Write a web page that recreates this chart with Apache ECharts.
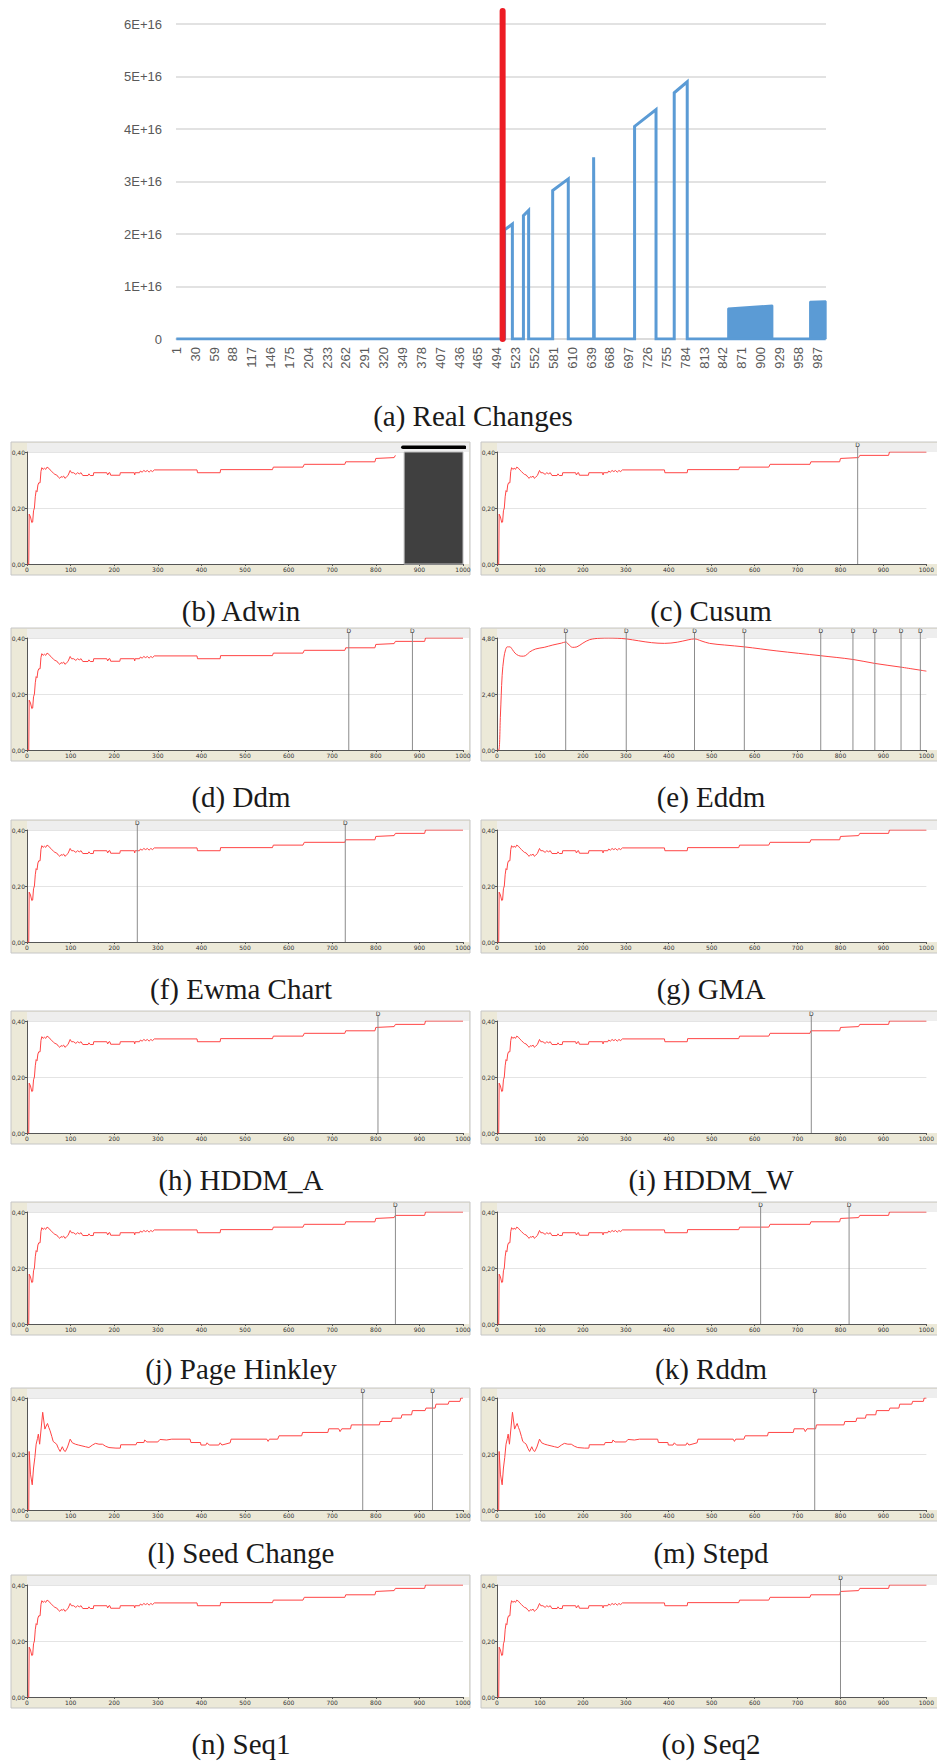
<!DOCTYPE html>
<html>
<head>
<meta charset="utf-8">
<script src="https://cdn.jsdelivr.net/npm/echarts/dist/echarts.min.js"></script>
<style>
  html, body { margin: 0; padding: 0; background: #ffffff; }
  #chart { width: 937px; height: 1762px; }
</style>
</head>
<body>
<div id="chart"></div>
<script>
// ---------- (a) Real Changes: stream values per instance ----------
const categories = [];
for (let i = 1; i <= 1000; i++) categories.push(String(i));

const driftStart = 503;          // instance where the real change begins
const driftMarkerTop = 6.25e16;  // top of the red change marker

// [instance, value] break points of the changing variable
const changeValues = [
  [1, 0], [506, 0], [506, 2.08e16], [518, 2.19e16], [518, 0],
  [535, 0], [535, 2.35e16], [543, 2.45e16], [543, 0],
  [580, 0], [580, 2.83e16], [604, 3.05e16], [604, 0],
  [643, 0], [643, 3.46e16], [644, 0],
  [706, 0], [706, 4.05e16], [739, 4.37e16], [739, 0],
  [767, 0], [767, 4.69e16], [787, 4.9e16], [787, 0],
  [1000, 0]
];
// dense oscillating stretches, drawn as filled blocks
const denseBlockA = [[850, 0], [850, 0.58e16], [918, 0.64e16], [918, 0]];
const denseBlockB = [[976, 0], [976, 0.71e16], [1000, 0.72e16], [1000, 0]];

// ---------- detector panels: accuracy curves ----------
const baseAccuracy = [
  [0, 0], [4, 0], [5, 0.178], [8, 0.168], [11, 0.148], [13, 0.15], [15, 0.19], [17, 0.2],
  [19, 0.24], [21, 0.262], [23, 0.258], [25, 0.282], [27, 0.29], [30, 0.29], [32, 0.33],
  [34, 0.344], [37, 0.338], [40, 0.342], [43, 0.338], [46, 0.346], [50, 0.342], [53, 0.336],
  [57, 0.33], [61, 0.324], [64, 0.32], [68, 0.318], [72, 0.31], [75, 0.306], [78, 0.312],
  [81, 0.31], [84, 0.314], [87, 0.306], [90, 0.31], [94, 0.316], [99, 0.334], [102, 0.326],
  [107, 0.326], [112, 0.32], [116, 0.326], [120, 0.322], [124, 0.326], [128, 0.316],
  [140, 0.316], [142, 0.322], [145, 0.316], [152, 0.316], [153, 0.326], [183, 0.326],
  [185, 0.318], [188, 0.326], [190, 0.326], [192, 0.317], [213, 0.317], [214, 0.326],
  [246, 0.326], [247, 0.318], [248, 0.326], [258, 0.326], [260, 0.332], [264, 0.328],
  [268, 0.334], [272, 0.33], [276, 0.334], [280, 0.328], [284, 0.334], [288, 0.33],
  [292, 0.336], [390, 0.336], [391, 0.326], [443, 0.326], [444, 0.337], [563, 0.337],
  [565, 0.346], [633, 0.346], [636, 0.356], [729, 0.356], [731, 0.365], [798, 0.365],
  [800, 0.377], [842, 0.38], [845, 0.388], [912, 0.388], [914, 0.4], [1000, 0.4]
];

const driftedAccuracy = [
  [0, 0], [4, 0], [5, 0.209], [8, 0.128], [12, 0.09], [15, 0.15], [18, 0.187], [21, 0.235],
  [24, 0.255], [26, 0.271], [29, 0.235], [33, 0.3], [36, 0.349], [41, 0.289], [44, 0.3],
  [47, 0.309], [50, 0.295], [53, 0.283], [57, 0.262], [60, 0.245], [64, 0.24], [68, 0.235],
  [72, 0.22], [76, 0.209], [81, 0.226], [85, 0.212], [88, 0.209], [93, 0.225], [99, 0.253],
  [104, 0.24], [111, 0.235], [118, 0.232], [126, 0.229], [134, 0.226], [142, 0.223],
  [150, 0.232], [157, 0.238], [165, 0.235], [173, 0.235], [180, 0.228], [188, 0.223],
  [204, 0.221], [214, 0.221], [215, 0.233], [250, 0.233], [252, 0.241], [268, 0.241],
  [270, 0.25], [275, 0.243], [300, 0.243], [305, 0.252], [320, 0.25], [332, 0.253],
  [374, 0.253], [376, 0.241], [398, 0.241], [399, 0.232], [410, 0.232], [413, 0.24],
  [418, 0.232], [440, 0.232], [443, 0.24], [447, 0.232], [466, 0.24], [468, 0.253],
  [550, 0.253], [553, 0.245], [556, 0.253], [575, 0.253], [578, 0.265], [630, 0.265],
  [632, 0.277], [690, 0.277], [692, 0.29], [715, 0.29], [718, 0.28], [722, 0.29],
  [742, 0.29], [744, 0.304], [808, 0.304], [810, 0.316], [836, 0.316], [838, 0.328],
  [858, 0.328], [860, 0.34], [882, 0.34], [884, 0.355], [913, 0.355], [915, 0.364],
  [936, 0.364], [938, 0.378], [966, 0.378], [968, 0.388], [993, 0.388], [995, 0.4], [1000, 0.4]
];

const eddmDistance = [
  [0, 0], [4, 0], [8, 1.5], [12, 3.2], [16, 3.95], [20, 4.3], [24, 4.42], [30, 4.42],
  [36, 4.3], [42, 4.15], [50, 4.05], [58, 4.02], [66, 4.04], [76, 4.2], [90, 4.33],
  [110, 4.4], [130, 4.5], [150, 4.58], [160, 4.63], [168, 4.5], [176, 4.4], [186, 4.42],
  [200, 4.58], [216, 4.73], [240, 4.79], [260, 4.8], [280, 4.79], [301, 4.76], [330, 4.68],
  [360, 4.6], [390, 4.57], [420, 4.62], [445, 4.72], [460, 4.76], [475, 4.68], [495, 4.57],
  [530, 4.5], [576, 4.42], [650, 4.25], [754, 4.04], [829, 3.88], [880, 3.71], [941, 3.55],
  [1000, 3.38]
];

// ---------- detections ("D") per detector ----------
const adwinWindow = [865, 1000];
const detAdwin = [];
const detCusum = [840];
const detDdm = [738, 884];
const detEddm = [160, 301, 460, 576, 754, 829, 880, 941, 986];
const detEwma = [253, 730];
const detGma = [];
const detHddmA = [805];
const detHddmW = [732];
const detPageHinkley = [845];
const detRddm = [614, 820];
const detSeedChange = [770, 930];
const detStepd = [740];
const detSeq1 = [];
const detSeq2 = [800];

const panels = [
  { caption: '(b) Adwin', curve: baseAccuracy, det: detAdwin, window: adwinWindow },
  { caption: '(c) Cusum', curve: baseAccuracy, det: detCusum },
  { caption: '(d) Ddm', curve: baseAccuracy, det: detDdm },
  { caption: '(e) Eddm', curve: eddmDistance, det: detEddm, yMax: 4.8, smooth: 0.35 },
  { caption: '(f) Ewma Chart', curve: baseAccuracy, det: detEwma },
  { caption: '(g) GMA', curve: baseAccuracy, det: detGma },
  { caption: '(h) HDDM_A', curve: baseAccuracy, det: detHddmA },
  { caption: '(i) HDDM_W', curve: baseAccuracy, det: detHddmW },
  { caption: '(j) Page Hinkley', curve: baseAccuracy, det: detPageHinkley },
  { caption: '(k) Rddm', curve: baseAccuracy, det: detRddm },
  { caption: '(l) Seed Change', curve: driftedAccuracy, det: detSeedChange },
  { caption: '(m) Stepd', curve: driftedAccuracy, det: detStepd },
  { caption: '(n) Seq1', curve: baseAccuracy, det: detSeq1 },
  { caption: '(o) Seq2', curve: baseAccuracy, det: detSeq2 }
];

// ---------- layout ----------
const rowTops = [442, 628, 820, 1011, 1202, 1388, 1575];
const captionYs = [611, 797, 989, 1180, 1369, 1553, 1744];
const frameLeft = [11, 481];
const frameWidth = [459, 462];
const axisGutter = 16;
const bandHeight = 10;
const plotWidth = 436;
const plotHeight = 112;
const frameHeight = 133;

const captionFont = { fontSize: 29, fontFamily: '"Liberation Serif", "DejaVu Serif", serif' };
const tinyFont = '"DejaVu Sans", sans-serif';

const option = {
  animation: false,
  backgroundColor: '#ffffff',
  grid: [],
  xAxis: [],
  yAxis: [],
  series: [],
  graphic: { elements: [] }
};
const g = option.graphic.elements;

// ---------- (a) chart ----------
option.grid.push({ left: 176, top: 24, width: 650, height: 315 });
option.xAxis.push({
  type: 'category', gridIndex: 0, data: categories, boundaryGap: true,
  axisLine: { lineStyle: { color: '#D9D9D9', width: 1.5 } },
  axisTick: { show: false },
  axisLabel: { interval: 28, rotate: 90, margin: 8, fontSize: 13, color: '#595959',
    fontFamily: '"Liberation Sans", Arial, sans-serif' },
  splitLine: { show: false }
});
option.yAxis.push({
  type: 'value', gridIndex: 0, min: 0, max: 6e16, interval: 1e16,
  axisLine: { show: false }, axisTick: { show: false },
  axisLabel: {
    formatter: v => (v === 0 ? '0' : Math.round(v / 1e16) + 'E+16'),
    fontSize: 13, color: '#595959', margin: 14,
    fontFamily: '"Liberation Sans", Arial, sans-serif'
  },
  splitLine: { lineStyle: { color: '#D9D9D9', width: 1.5 } }
});
const toIndex = pts => pts.map(([c, v]) => [c - 1, v]);
option.series.push({
  type: 'line', xAxisIndex: 0, yAxisIndex: 0, data: toIndex(changeValues),
  symbol: 'none', lineStyle: { color: '#5B9BD5', width: 3, join: 'miter' }, z: 3
});
[denseBlockA, denseBlockB].forEach(block => {
  option.series.push({
    type: 'line', xAxisIndex: 0, yAxisIndex: 0, data: toIndex(block),
    symbol: 'none', lineStyle: { color: '#5B9BD5', width: 2 },
    areaStyle: { color: '#5B9BD5', opacity: 1 }, z: 3
  });
});
option.series.push({
  type: 'line', xAxisIndex: 0, yAxisIndex: 0,
  data: toIndex([[driftStart, 0], [driftStart, driftMarkerTop]]),
  symbol: 'none', clip: false,
  lineStyle: { color: '#ED1C24', width: 6, cap: 'round' }, z: 5
});
g.push({
  type: 'text', z: 10,
  style: Object.assign({ text: '(a) Real Changes', x: 473, y: 416, textAlign: 'center',
    textVerticalAlign: 'middle', fill: '#1a1a1a' }, captionFont)
});

// ---------- detector panels ----------
const fmtComma = v => v.toFixed(2).replace('.', ',');

panels.forEach((p, i) => {
  const row = Math.floor(i / 2), col = i % 2;
  const fx = frameLeft[col], fy = rowTops[row], fw = frameWidth[col];
  const px = fx + axisGutter, py = fy + bandHeight;
  const gi = option.grid.length;
  const yMax = p.yMax || 0.4;

  // panel frame, header band and white plotting area
  g.push({ type: 'rect', z: -3, shape: { x: fx, y: fy, width: fw, height: frameHeight },
    style: { fill: '#ECE9D8', stroke: '#C6C6C6', lineWidth: 1 } });
  g.push({ type: 'rect', z: -2, shape: { x: px, y: fy + 1, width: fw - axisGutter - 1, height: bandHeight },
    style: { fill: '#EEEEEE' } });
  g.push({ type: 'rect', z: -2, shape: { x: px, y: py, width: fw - axisGutter - 1, height: plotHeight },
    style: { fill: '#FFFFFF' } });

  option.grid.push({ left: px, top: py, width: plotWidth, height: plotHeight });
  option.xAxis.push({
    type: 'value', gridIndex: gi, min: 0, max: 1000, interval: 100,
    axisLine: { lineStyle: { color: '#555555', width: 1 } },
    axisTick: { length: 2, lineStyle: { color: '#555555' } },
    axisLabel: { fontSize: 6, margin: 2, color: '#333333', fontFamily: tinyFont,
      formatter: v => String(v) },
    splitLine: { show: false }
  });
  option.yAxis.push({
    type: 'value', gridIndex: gi, min: 0, max: yMax, interval: yMax / 2,
    axisLine: { show: true, lineStyle: { color: '#555555', width: 1 } },
    axisTick: { show: true, length: 2, lineStyle: { color: '#555555' } },
    axisLabel: { fontSize: 6, margin: 2, color: '#333333', fontFamily: tinyFont, formatter: fmtComma },
    splitLine: { lineStyle: { color: '#E4E4E4', width: 1 } }
  });

  const curve = p.window ? p.curve.filter(q => q[0] <= p.window[0] - 3) : p.curve;
  const accSeries = {
    type: 'line', xAxisIndex: gi, yAxisIndex: gi, data: curve, symbol: 'none',
    smooth: p.smooth || false,
    lineStyle: { color: '#FF4444', width: 1 }, z: 3
  };
  if (p.window) {
    accSeries.markArea = {
      silent: true,
      itemStyle: { color: '#404040', borderColor: '#BDBDBD', borderWidth: 1 },
      data: [[{ coord: [p.window[0], 0] }, { coord: [p.window[1], yMax] }]]
    };
    // black bar in the header band above the window
    const barY = yMax * (1 + 4.7 / plotHeight);
    option.series.push({
      type: 'line', xAxisIndex: gi, yAxisIndex: gi, clip: false, symbol: 'none',
      data: [[p.window[0] - 3, barY], [p.window[1] + 4, barY]],
      lineStyle: { color: '#000000', width: 3.5, cap: 'round' }, z: 6
    });
  }
  option.series.push(accSeries);

  const dTop = yMax * (1 + 5 / plotHeight);
  p.det.forEach(x => {
    option.series.push({
      type: 'line', xAxisIndex: gi, yAxisIndex: gi, clip: false,
      symbol: 'circle', symbolSize: 0, showSymbol: true,
      itemStyle: { color: '#8C8C8C', opacity: 0 },
      lineStyle: { color: '#8C8C8C', width: 1 }, z: 4,
      data: [
        [x, 0],
        { value: [x, dTop], label: { show: true, formatter: 'D', position: 'top', distance: 0,
          fontSize: 6, color: '#333333', opacity: 1, fontFamily: tinyFont } }
      ]
    });
  });

  g.push({
    type: 'text', z: 10,
    style: Object.assign({ text: p.caption, x: fx + 230, y: captionYs[row], textAlign: 'center',
      textVerticalAlign: 'middle', fill: '#1a1a1a' }, captionFont)
  });
});

const chart = echarts.init(document.getElementById('chart'), null, { renderer: 'svg', width: 937, height: 1762 });
chart.setOption(option);
</script>
</body>
</html>
